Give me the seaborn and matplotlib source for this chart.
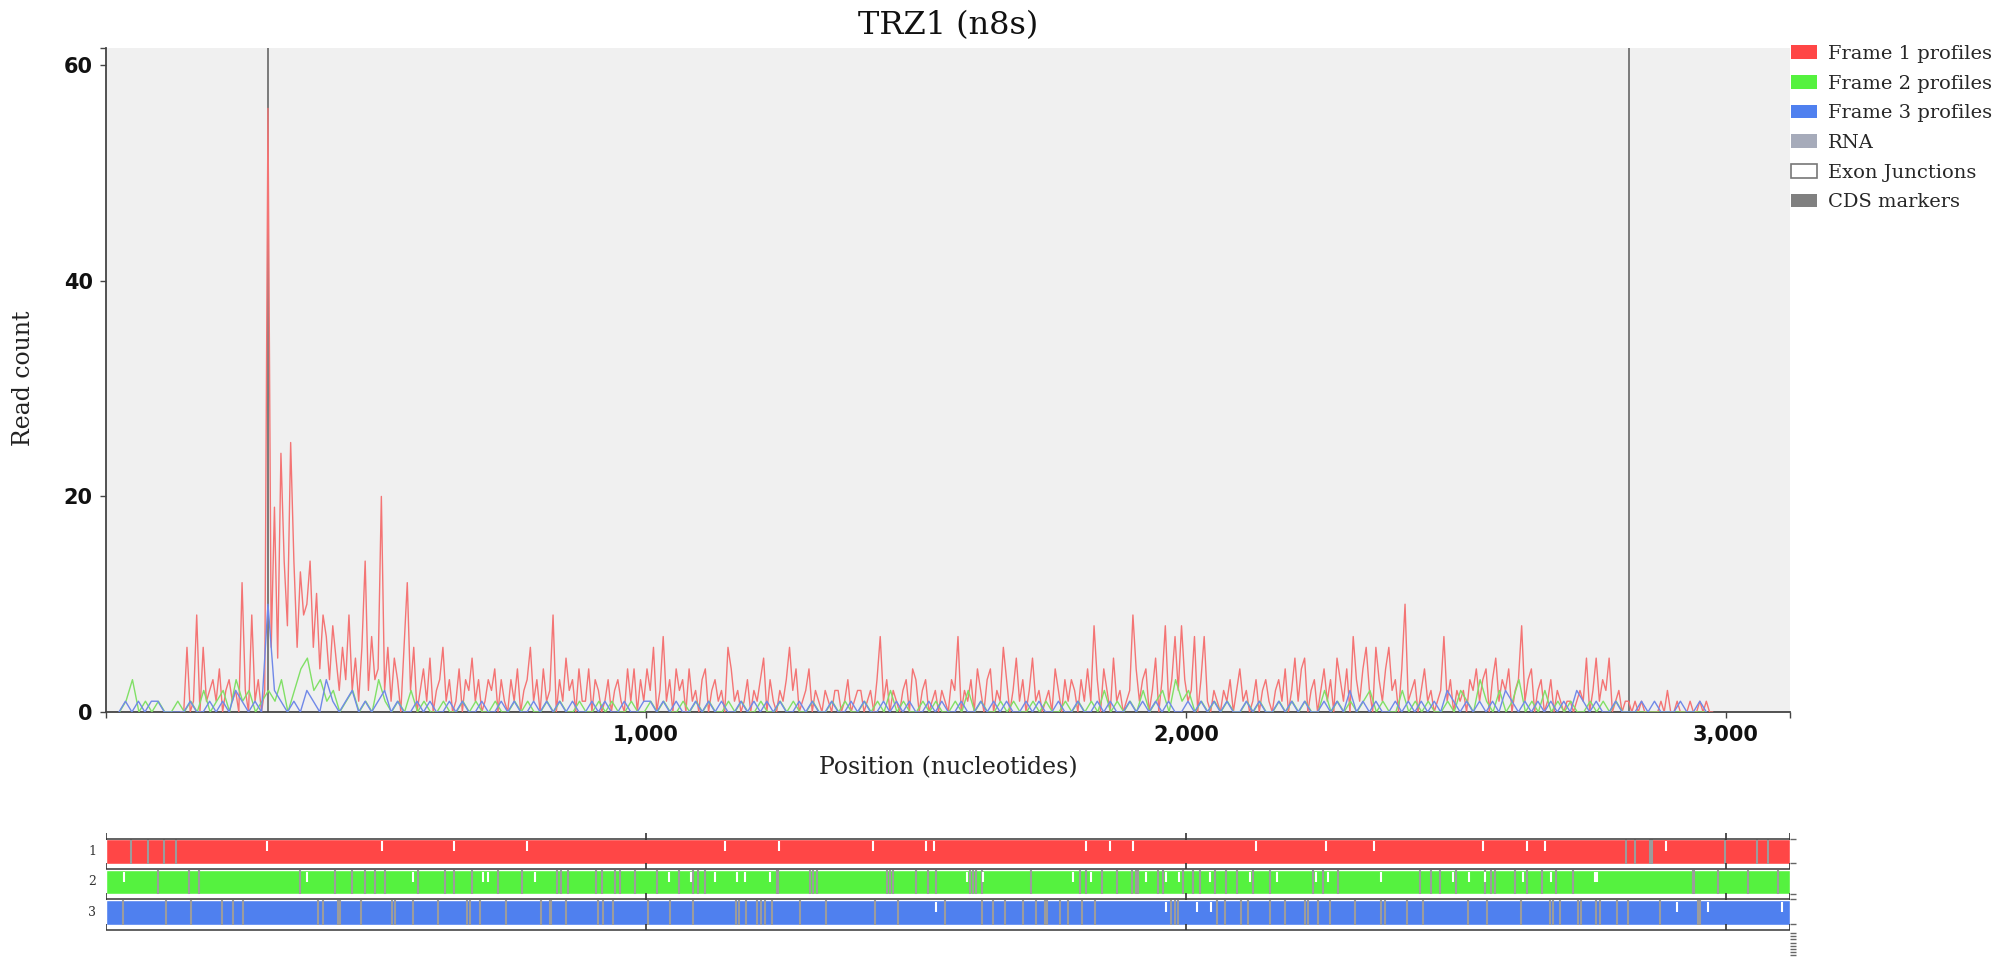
import numpy as np
import pandas as pd
import matplotlib
matplotlib.use("Agg")
import matplotlib.pyplot as plt
import seaborn as sns
from matplotlib.patches import Patch

# ---------------- data ----------------
title = "TRZ1 (n8s)"
x_label = "Position (nucleotides)"
y_label = "Read count"
transcript_len = 3119
cds_start, cds_end = 300, 2820
xtick_vals = [1000, 2000, 3000]
xtick_labels = ["1,000", "2,000", "3,000"]
ytick_vals = [0, 20, 40, 60]
frame_names = ["Frame 1", "Frame 2", "Frame 3"]

# Frame 1 read counts, one value every 6 nt starting at nt 138
frame1_start, frame1_step = 138, 6
frame1_counts = [
    0, 0, 6, 0, 1, 9, 0, 6, 1, 2,
    3, 1, 4, 0, 2, 3, 1, 2, 0, 12,
    2, 0, 9, 1, 3, 0, 2, 56, 6, 19,
    5, 24, 14, 8, 25, 14, 6, 13, 9, 10,
    14, 6, 11, 4, 9, 7, 3, 8, 5, 2,
    6, 3, 9, 2, 5, 1, 6, 14, 2, 7,
    3, 4, 20, 2, 6, 1, 5, 3, 0, 6,
    12, 2, 6, 0, 2, 4, 1, 5, 0, 2,
    3, 6, 1, 3, 0, 1, 4, 0, 3, 2,
    5, 1, 3, 0, 1, 3, 2, 4, 0, 3,
    1, 0, 3, 1, 4, 0, 2, 3, 6, 1,
    3, 0, 4, 1, 2, 9, 0, 3, 1, 5,
    2, 3, 0, 4, 1, 1, 4, 0, 3, 2,
    0, 1, 3, 0, 2, 3, 1, 0, 4, 1,
    4, 0, 3, 1, 4, 2, 6, 0, 2, 7,
    1, 3, 0, 4, 2, 3, 0, 4, 1, 2,
    0, 3, 4, 0, 2, 3, 1, 2, 0, 6,
    4, 1, 2, 0, 1, 3, 0, 2, 1, 3,
    5, 0, 3, 1, 0, 2, 1, 3, 6, 2,
    4, 0, 1, 2, 4, 0, 2, 1, 0, 2,
    1, 0, 2, 2, 0, 1, 3, 0, 1, 2,
    2, 0, 1, 2, 0, 3, 7, 1, 3, 0,
    2, 1, 0, 2, 3, 0, 4, 3, 0, 2,
    3, 0, 1, 2, 0, 2, 1, 0, 3, 2,
    7, 0, 2, 1, 3, 0, 4, 2, 0, 3,
    4, 0, 2, 1, 6, 3, 0, 2, 5, 1,
    3, 0, 2, 5, 1, 2, 0, 1, 2, 0,
    4, 2, 0, 3, 1, 3, 2, 0, 3, 1,
    4, 1, 8, 3, 0, 4, 2, 0, 5, 1,
    2, 0, 1, 2, 9, 4, 1, 3, 4, 0,
    2, 5, 0, 3, 8, 1, 3, 7, 2, 8,
    3, 1, 2, 7, 0, 3, 7, 1, 0, 2,
    1, 0, 2, 1, 3, 0, 2, 4, 1, 2,
    0, 1, 3, 0, 2, 3, 1, 0, 2, 3,
    1, 4, 0, 2, 5, 1, 4, 5, 0, 2,
    3, 0, 2, 4, 1, 3, 0, 5, 3, 1,
    4, 0, 7, 3, 1, 4, 6, 2, 0, 6,
    3, 1, 4, 6, 2, 3, 0, 4, 10, 1,
    2, 3, 0, 2, 4, 1, 2, 0, 1, 2,
    7, 1, 3, 0, 2, 1, 2, 0, 3, 2,
    4, 1, 3, 4, 0, 3, 5, 1, 3, 2,
    4, 0, 2, 3, 8, 1, 3, 4, 0, 2,
    3, 0, 1, 3, 0, 2, 1, 0, 1, 1,
    0, 1, 2, 1, 5, 0, 2, 5, 1, 3,
    2, 5, 0, 1, 2, 0, 1, 1, 0, 1,
    0, 1, 0, 0, 0, 0, 0, 1, 0, 2,
    0, 0, 1, 0, 0, 0, 1, 0, 0, 1,
    0, 1, 0, 0,
]

# Frame 2 read counts, one value every 12 nt starting at nt 25
frame2_start, frame2_step = 25, 12
frame2_counts = [
    0, 1, 3, 0, 1, 0, 1, 0, 0, 1,
    0, 1, 0, 2, 0, 1, 2, 0, 3, 1,
    2, 0, 1, 2, 1, 3, 0, 2, 4, 5,
    2, 3, 1, 2, 0, 1, 2, 0, 1, 0,
    3, 1, 0, 1, 0, 2, 0, 1, 0, 0,
    1, 0, 0, 1, 0, 1, 0, 0, 1, 0,
    0, 1, 0, 1, 0, 0, 1, 0, 1, 0,
    0, 1, 0, 0, 1, 0, 1, 0, 0, 1,
    0, 0, 1, 0, 1, 0, 0, 1, 0, 1,
    0, 1, 0, 0, 1, 0, 1, 0, 0, 1,
    0, 0, 1, 0, 1, 0, 0, 1, 0, 0,
    1, 0, 1, 0, 0, 1, 0, 1, 0, 2,
    0, 1, 0, 0, 1, 0, 1, 0, 0, 1,
    0, 2, 0, 1, 0, 0, 1, 0, 1, 0,
    0, 1, 0, 1, 0, 0, 1, 0, 1, 0,
    1, 0, 2, 0, 1, 0, 1, 0, 2, 0,
    1, 2, 0, 3, 1, 2, 0, 1, 0, 1,
    0, 1, 0, 0, 1, 0, 1, 0, 0, 1,
    0, 1, 0, 1, 0, 0, 2, 0, 1, 0,
    1, 0, 1, 2, 0, 1, 0, 0, 2, 0,
    1, 0, 1, 0, 0, 1, 0, 2, 1, 0,
    3, 1, 0, 2, 0, 1, 3, 0, 1, 0,
    2, 0, 1, 0, 1, 0, 0, 1, 0, 1,
    0, 1, 0, 0, 0, 0, 0, 0, 0, 0,
    0, 0, 0, 0, 0, 0,
]

# Frame 3 read counts, one value every 12 nt starting at nt 24
frame3_start, frame3_step = 24, 12
frame3_counts = [
    0, 1, 0, 1, 0, 1, 1, 0, 0, 0,
    0, 1, 0, 0, 1, 0, 1, 0, 2, 1,
    0, 1, 0, 10, 2, 1, 0, 1, 0, 2,
    1, 0, 3, 1, 0, 1, 2, 0, 1, 0,
    1, 2, 0, 1, 0, 0, 1, 0, 1, 0,
    0, 1, 0, 1, 0, 0, 1, 0, 0, 1,
    0, 1, 0, 0, 1, 0, 1, 0, 1, 0,
    1, 0, 0, 1, 0, 1, 0, 0, 1, 0,
    0, 1, 1, 0, 1, 0, 1, 0, 0, 1,
    0, 1, 0, 1, 0, 0, 1, 0, 1, 0,
    1, 0, 1, 0, 0, 1, 0, 1, 0, 0,
    1, 0, 0, 1, 0, 1, 0, 0, 1, 0,
    1, 0, 1, 0, 0, 1, 0, 1, 0, 0,
    1, 0, 0, 1, 0, 1, 0, 1, 0, 0,
    1, 0, 1, 0, 0, 1, 0, 0, 1, 0,
    0, 1, 0, 1, 0, 0, 1, 0, 1, 0,
    1, 0, 1, 0, 0, 1, 0, 1, 0, 1,
    0, 1, 0, 0, 1, 0, 1, 0, 0, 1,
    0, 1, 0, 1, 0, 0, 1, 0, 1, 0,
    2, 0, 1, 0, 1, 0, 0, 1, 0, 1,
    0, 1, 0, 1, 0, 2, 1, 0, 1, 0,
    1, 0, 1, 0, 2, 1, 0, 1, 0, 1,
    0, 1, 0, 1, 0, 2, 1, 0, 1, 0,
    0, 1, 0, 0, 0, 1, 0, 1, 0, 0,
    0, 1, 0, 0, 1, 0,
]

# stop (grey) and start (white) codon positions in each reading frame
frame1_stops = [46, 78, 107, 129, 2816, 2831, 2859, 2864, 2998, 3057, 3078]
frame1_starts = [299, 512, 645, 780, 1146, 1247, 1420, 1519, 1534, 1816, 1859,
                 1902, 2130, 2260, 2348, 2551, 2631, 2665, 2889]
frame2_stops = [97, 154, 172, 359, 424, 455, 480, 498, 517, 578, 628, 645, 677,
                726, 770, 836, 842, 856, 907, 918, 943, 952, 980, 1020, 1062,
                1088, 1097, 1109, 1242, 1245, 1304, 1310, 1316, 1446, 1452,
                1458, 1501, 1523, 1538, 1600, 1606, 1611, 1622, 1714, 1804,
                1816, 1844, 1872, 1901, 1907, 1912, 1949, 1957, 1995, 2014,
                2026, 2054, 2075, 2094, 2124, 2156, 2236, 2254, 2282, 2433,
                2455, 2470, 2501, 2554, 2566, 2572, 2609, 2631, 2659, 2686,
                2717, 2939, 2942, 2986, 3041, 3097]
frame2_starts = [33, 373, 569, 699, 708, 794, 1043, 1084, 1128, 1168, 1183,
                 1230, 1595, 1625, 1791, 1825, 1927, 1964, 1988, 2044, 2119,
                 2168, 2242, 2263, 2362, 2495, 2525, 2554, 2625, 2677, 2757,
                 2761]
frame3_stops = [31, 112, 157, 214, 236, 253, 393, 401, 430, 434, 473, 529, 535,
                568, 615, 668, 674, 693, 741, 805, 822, 825, 852, 912, 920,
                939, 1004, 1044, 1088, 1167, 1173, 1186, 1206, 1214, 1220,
                1233, 1285, 1334, 1424, 1467, 1554, 1622, 1643, 1665, 1699,
                1723, 1739, 1742, 1767, 1782, 1807, 1831, 1973, 1980, 1986,
                2057, 2072, 2103, 2115, 2156, 2183, 2220, 2227, 2245, 2267,
                2313, 2362, 2368, 2409, 2439, 2522, 2557, 2621, 2674, 2680,
                2693, 2726, 2732, 2760, 2767, 2798, 2819, 2878, 2949, 2952]
frame3_starts = [1538, 1964, 2020, 2047, 2909, 2967, 3105]

legend_labels = ["Frame 1 profiles", "Frame 2 profiles", "Frame 3 profiles",
                 "RNA", "Exon Junctions", "CDS markers"]

# ---------------- style ----------------
band_colors = ["#ff4646", "#55f23f", "#4f80ef"]
line_colors = ["#f47474", "#80e066", "#7088e8"]

sns.set_theme(style="white")
plt.rcParams["font.family"] = ["DejaVu Serif"]

W, H = 2001, 960
fig = plt.figure(figsize=(W / 100, H / 100), dpi=100)

# ---------------- profile panel ----------------
ax = fig.add_axes([106 / W, 1 - 712 / H, 1684 / W, 664 / H])
ax.set_facecolor("#f0f0f0")

def frame_df(start, step, counts, name):
    return pd.DataFrame({"pos": start + step * np.arange(len(counts)),
                         "count": counts, "frame": name})

df = pd.concat([
    frame_df(frame1_start, frame1_step, frame1_counts, frame_names[0]),
    frame_df(frame2_start, frame2_step, frame2_counts, frame_names[1]),
    frame_df(frame3_start, frame3_step, frame3_counts, frame_names[2]),
], ignore_index=True)

for xv in (cds_start, cds_end):
    ax.axvline(xv, color="#7a7a7a", lw=1.4, zorder=1)

sns.lineplot(data=df, x="pos", y="count", hue="frame", hue_order=frame_names,
             palette=line_colors, ax=ax, legend=False, linewidth=1.0,
             estimator=None, zorder=3)

ymax = 61.6
ax.set_xlim(0, transcript_len)
ax.set_ylim(0, ymax)
ax.set_xticks([0] + xtick_vals + [transcript_len])
ax.set_xticklabels([""] + xtick_labels + [""])
ax.set_yticks(ytick_vals + [ymax])
ax.set_yticklabels([str(v) for v in ytick_vals] + [""])
ax.set_xlabel("")
ax.set_ylabel("")
ax.tick_params(axis="both", bottom=True, left=True, length=4.5, width=1,
               color="#444444", pad=5, direction="out")
for lab in ax.get_xticklabels() + ax.get_yticklabels():
    lab.set_fontfamily("DejaVu Sans")
    lab.set_fontweight("bold")
    lab.set_fontsize(15)
    lab.set_color("#111111")
for s in ("top", "right"):
    ax.spines[s].set_visible(False)
for s in ("left", "bottom"):
    ax.spines[s].set_color("#444444")
    ax.spines[s].set_linewidth(1.3)

fig.text(948 / W, 1 - 26 / H, title, ha="center", va="center", fontsize=23, color="#111111")
fig.text(948 / W, 1 - 768 / H, x_label, ha="center", va="center", fontsize=17, color="#222222")
fig.text(24 / W, 1 - 378 / H, y_label, ha="center", va="center", rotation=90,
         fontsize=17, color="#222222")

handles = [
    Patch(facecolor="#ff4646", edgecolor="none"),
    Patch(facecolor="#55f23f", edgecolor="none"),
    Patch(facecolor="#4f80ef", edgecolor="none"),
    Patch(facecolor="#a6abba", edgecolor="none"),
    Patch(facecolor="white", edgecolor="#777777", linewidth=1.2),
    Patch(facecolor="#808080", edgecolor="none"),
]
fig.legend(handles, legend_labels, loc="upper left", bbox_to_anchor=(1791 / W, 1 - 45 / H),
           frameon=False, fontsize=14, handlelength=1.35, handleheight=0.7,
           handletextpad=0.55, labelspacing=0.6, borderpad=0, borderaxespad=0)

# ---------------- reading-frame tracks ----------------
ax2 = fig.add_axes([106 / W, 0, 1684 / W, 128 / H])
ax2.set_xlim(0, transcript_len)
ax2.set_ylim(128, 0)
ax2.axis("off")

band_tops = [7, 37.5, 68]
band_h = 24.5
border_ys = [7, 36.5, 67, 97.5]
stops_all = [frame1_stops, frame2_stops, frame3_stops]
starts_all = [frame1_starts, frame2_starts, frame3_starts]

ax2.barh(y=[t + band_h / 2 for t in band_tops], width=transcript_len, height=band_h,
         left=0, color=band_colors, zorder=1)
for i, t in enumerate(band_tops):
    ax2.vlines(stops_all[i], t, t + band_h, colors="#9c9c9c", lw=1.5, zorder=2)
    ax2.vlines(starts_all[i], t + 2, t + 12, colors="white", lw=1.5, zorder=3)
    ax2.text(-26, t + band_h / 2, str(i + 1), ha="center", va="center",
             fontsize=9, color="#333333")
ax2.hlines(border_ys, 0, transcript_len, colors="#555555", lw=1.3, zorder=4)
for xv in [0] + xtick_vals + [transcript_len]:
    ax2.vlines([xv] * len(border_ys), [y - 6 for y in border_ys],
               [y + 0.5 for y in border_ys], colors="#333333", lw=1.2, zorder=5)
stub_ys = [7, 31, 62, 67, 92] + [101 + 3.2 * k for k in range(8)]
ax2.hlines(stub_ys, transcript_len, transcript_len + 11, colors="#666666", lw=1.0,
           zorder=5, clip_on=False)

fig.savefig("out.png", dpi=100, facecolor="white")
